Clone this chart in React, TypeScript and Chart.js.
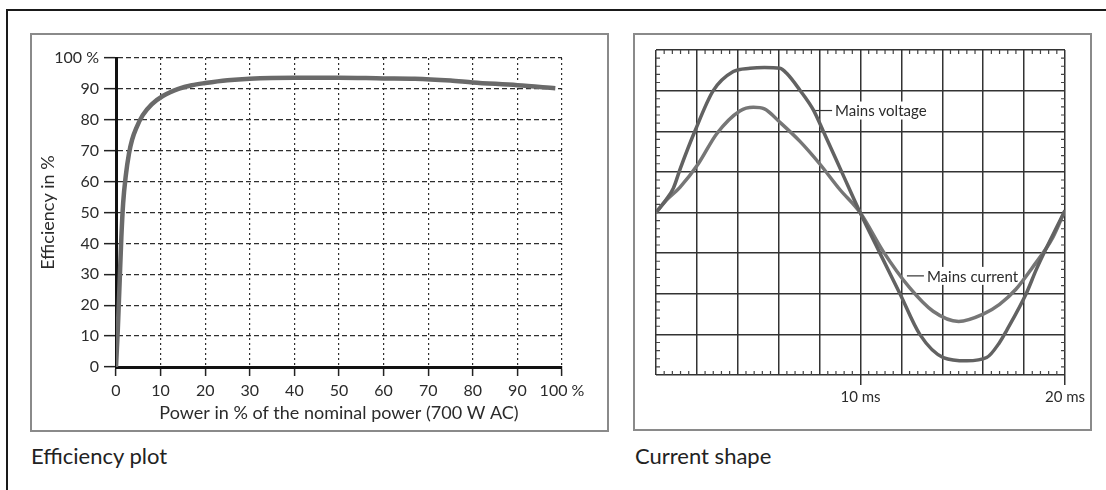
import React, { useEffect, useRef } from 'react';
import { Chart, registerables } from 'chart.js';

Chart.register(...registerables);

// ---- Efficiency plot data ----
const effPower = [0, 0.4, 0.8, 1.2, 1.6, 2.2, 2.9, 3.6, 4.6, 6, 8, 10.5, 14, 17, 20, 25, 30, 40, 50, 60, 67, 75, 80, 90, 98.5];
const effValue = [0, 12, 27, 42, 53, 62, 69, 73.5, 77.5, 81.5, 85, 87.7, 90, 91.2, 91.9, 92.8, 93.3, 93.6, 93.6, 93.4, 93.3, 92.7, 92.1, 91.2, 90.2];
const effXTitle = 'Power in % of the nominal power (700 W AC)';
const effYTitle = 'Efficiency in %';

// ---- Current shape data (time in ms, amplitude in grid divisions) ----
const voltageTime = [0, 0.5, 0.85, 1.2, 1.9, 2.8, 3.78, 4.6, 5.3, 6.06, 6.4, 7.04, 7.7, 8.18, 9.08, 9.98, 10.95, 11.93, 12.9, 14.05, 15.2, 16.17, 16.8, 17.15, 18.1, 18.6, 19.27, 20];
const voltageValue = [0, 0.32, 0.6, 1.1, 2.0, 3.0, 3.47, 3.55, 3.57, 3.55, 3.42, 3.01, 2.52, 2.0, 1.0, 0, -1.0, -2.0, -3.0, -3.57, -3.65, -3.57, -3.2, -2.9, -2.0, -1.4, -0.69, 0.05];
const currentTime = [0, 0.5, 1.17, 2.07, 2.97, 4.1, 4.76, 5.3, 6.06, 7.04, 8.0, 9.0, 9.98, 11.1, 12.4, 13.55, 14.8, 16.0, 16.8, 17.6, 18.4, 19.4, 20];
const currentValue = [0, 0.3, 0.62, 1.2, 1.94, 2.5, 2.59, 2.55, 2.22, 1.75, 1.2, 0.56, 0, -0.95, -1.85, -2.43, -2.68, -2.5, -2.26, -1.89, -1.36, -0.62, 0.05];
const timeLabels: Record<number, string> = { 10: '10 ms', 20: '20 ms' };
const annotations = [
  { text: 'Mains voltage', t: 7.78, v: 2.51 },
  { text: 'Mains current', t: 12.27, v: -1.56 },
];

const FONT = 'Lato';
const TEXT = '#2b2b2b';

const scopePlugin = {
  id: 'scopeDecor',
  beforeDatasetsDraw(chart: any) {
    const { ctx, chartArea: a, scales } = chart;
    const x = scales.x;
    const y = scales.y;
    ctx.save();
    // minor ticks along the four edges
    ctx.strokeStyle = '#444';
    ctx.lineWidth = 1.2;
    ctx.beginPath();
    for (let i = 1; i < 50; i++) {
      if (i % 5 === 0) continue;
      const px = x.getPixelForValue(i * 0.4);
      ctx.moveTo(px, a.bottom);
      ctx.lineTo(px, a.bottom - 4);
      ctx.moveTo(px, a.top);
      ctx.lineTo(px, a.top + 4);
    }
    for (let i = 1; i < 40; i++) {
      if (i % 5 === 0) continue;
      const py = y.getPixelForValue(-4 + i * 0.2);
      ctx.moveTo(a.left, py);
      ctx.lineTo(a.left + 4, py);
      ctx.moveTo(a.right, py);
      ctx.lineTo(a.right - 4, py);
    }
    ctx.stroke();
    // labels with leader lines
    ctx.font = `15px ${FONT}`;
    ctx.textBaseline = 'middle';
    for (const an of annotations) {
      const px = x.getPixelForValue(an.t);
      const py = y.getPixelForValue(an.v);
      const w = ctx.measureText(an.text).width;
      ctx.fillStyle = '#fff';
      ctx.fillRect(px + 17, py - 9, w + 6, 18);
      ctx.strokeStyle = '#333';
      ctx.lineWidth = 1.2;
      ctx.beginPath();
      ctx.moveTo(px, py);
      ctx.lineTo(px + 17, py);
      ctx.stroke();
      ctx.fillStyle = TEXT;
      ctx.fillText(an.text, px + 20, py + 1);
    }
    ctx.restore();
  },
};

export default function App() {
  const effRef = useRef<HTMLCanvasElement>(null);
  const scopeRef = useRef<HTMLCanvasElement>(null);

  useEffect(() => {
    const eff = new Chart(effRef.current!, {
      type: 'line',
      data: {
        datasets: [
          {
            data: effPower.map((x, i) => ({ x, y: effValue[i] })),
            borderColor: '#6a6a6a',
            borderWidth: 4.5,
            pointRadius: 0,
            cubicInterpolationMode: 'monotone',
            fill: false,
          },
        ],
      },
      options: {
        responsive: false,
        animation: false,
        layout: { padding: { left: 0, right: 44, top: 23, bottom: 0 } },
        plugins: { legend: { display: false }, tooltip: { enabled: false } },
        scales: {
          x: {
            type: 'linear',
            min: 0,
            max: 100,
            afterFit: (s: any) => { s.height = 62; },
            grid: { color: '#2e2e2e', lineWidth: 1.2, tickLength: 9, tickColor: '#222', tickWidth: 1.5, tickBorderDash: [] },
            border: { display: true, color: '#111', width: 3, dash: [2, 3] },
            ticks: {
              stepSize: 10,
              autoSkip: false,
              maxRotation: 0,
              padding: 5,
              color: TEXT,
              font: { family: FONT, size: 16 },
              callback: (v: any) => (v === 100 ? '100 %' : String(v)),
            },
            title: { display: true, text: effXTitle, color: TEXT, font: { family: FONT, size: 18 }, padding: { top: 0, bottom: 5 } },
          },
          y: {
            min: 0,
            max: 100,
            afterFit: (s: any) => { s.width = 83; },
            grid: { color: '#2e2e2e', lineWidth: 1.3, tickLength: 12, tickColor: '#222', tickWidth: 1.5, tickBorderDash: [] },
            border: { display: true, color: '#111', width: 3, dash: [5, 3] },
            ticks: {
              stepSize: 10,
              padding: 5,
              color: TEXT,
              font: { family: FONT, size: 16 },
              callback: (v: any) => (v === 100 ? '100 %' : String(v)),
            },
            title: { display: true, text: effYTitle, color: TEXT, font: { family: FONT, size: 18 }, padding: { top: 4, bottom: 0 } },
          },
        },
      },
    } as any);

    const scope = new Chart(scopeRef.current!, {
      type: 'line',
      data: {
        datasets: [
          {
            data: voltageTime.map((x, i) => ({ x, y: voltageValue[i] })),
            borderColor: '#626262',
            borderWidth: 3.5,
            pointRadius: 0,
            cubicInterpolationMode: 'monotone',
            fill: false,
          },
          {
            data: currentTime.map((x, i) => ({ x, y: currentValue[i] })),
            borderColor: '#767676',
            borderWidth: 3.5,
            pointRadius: 0,
            cubicInterpolationMode: 'monotone',
            fill: false,
          },
        ],
      },
      options: {
        responsive: false,
        animation: false,
        layout: { padding: { left: 0, right: 25, top: 15, bottom: 0 } },
        plugins: { legend: { display: false }, tooltip: { enabled: false } },
        scales: {
          x: {
            type: 'linear',
            min: 0,
            max: 20,
            afterFit: (s: any) => { s.height = 54; },
            grid: {
              color: '#333',
              lineWidth: 1.5,
              tickLength: 10,
              tickWidth: 1.5,
              tickBorderDash: [],
              tickColor: (c: any) => (c.tick && timeLabels[c.tick.value] ? '#333' : 'rgba(0,0,0,0)'),
            },
            border: { display: false },
            ticks: {
              stepSize: 2,
              autoSkip: false,
              maxRotation: 0,
              padding: 3,
              color: TEXT,
              font: { family: FONT, size: 15 },
              callback: (v: any) => timeLabels[v] || '',
            },
          },
          y: {
            min: -4,
            max: 4,
            afterFit: (s: any) => { s.width = 20; },
            grid: { color: '#333', lineWidth: 1.5, drawTicks: false },
            border: { display: false },
            ticks: { stepSize: 1, display: false },
          },
        },
      },
      plugins: [scopePlugin],
    } as any);

    return () => {
      eff.destroy();
      scope.destroy();
    };
  }, []);

  const caption: React.CSSProperties = {
    position: 'absolute',
    top: 443,
    fontFamily: FONT,
    fontSize: 22,
    lineHeight: '26px',
    color: '#222',
    whiteSpace: 'nowrap',
  };

  return (
    <div style={{ position: 'absolute', left: 0, top: 0, width: 1106, height: 490, background: '#fff', overflow: 'hidden' }}>
      <div style={{ position: 'absolute', left: 6, top: 9, width: 1100, height: 481, borderLeft: '2px solid #1a1a1a', borderTop: '2px solid #1a1a1a', boxSizing: 'border-box' }} />
      <div style={{ position: 'absolute', left: 30, top: 33, width: 579, height: 399, border: '2px solid #8a8a8a', boxSizing: 'border-box' }} />
      <div style={{ position: 'absolute', left: 633, top: 33, width: 459, height: 398, border: '2px solid #8a8a8a', boxSizing: 'border-box' }} />
      <canvas ref={effRef} width={573} height={394} style={{ position: 'absolute', left: 33, top: 35 }} />
      <canvas ref={scopeRef} width={454} height={394} style={{ position: 'absolute', left: 636, top: 35 }} />
      <div style={{ ...caption, left: 31 }}>Efficiency plot</div>
      <div style={{ ...caption, left: 635 }}>Current shape</div>
    </div>
  );
}
